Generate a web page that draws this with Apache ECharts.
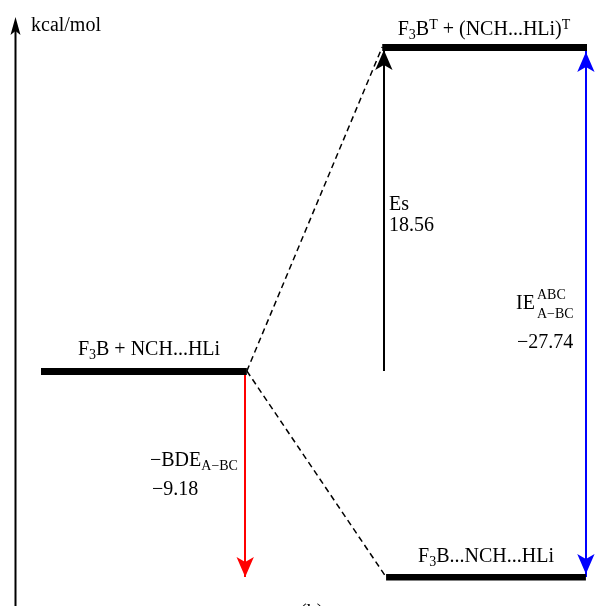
<!DOCTYPE html>
<html><head><meta charset="utf-8">
<script src="https://cdn.jsdelivr.net/npm/echarts@6/dist/echarts.min.js"></script>
<style>html,body{margin:0;padding:0;background:#fff}#c{width:599px;height:606px}</style>
</head><body><div id="c"></div>
<script>
// Energy levels (kcal/mol)
const levelEnergy = [0, 18.56, -9.18];
// drawn heights: the lowest level is drawn off-scale in the original figure
const levelPlotY = [0, 18.56, -11.8];
// reaction-coordinate spans of the three level bars
const levelStart = [0, 62.5, 63.2];
const levelEnd = [37.7, 100, 99.8];
const esValue = 18.56;
const bdeValue = -9.18;
const ieValue = -27.74;
const arrowX = [37.4, 62.8, 99.8]; // BDE, Es, IE

const FONT = '"Liberation Serif","Times New Roman",serif';
const chart = echarts.init(document.getElementById('c'), null, {renderer: 'canvas'});

const rich = {
  n: {fontSize: 20, fontFamily: FONT, lineHeight: 24, verticalAlign: 'middle', fill: '#000'},
  sub: {fontSize: 14, fontFamily: FONT, lineHeight: 14, verticalAlign: 'bottom', fill: '#000'},
  sup: {fontSize: 14, fontFamily: FONT, lineHeight: 14, verticalAlign: 'top', fill: '#000'}
};
function txt(text, x, y, align) {
  return {type: 'text', x: x, y: y, z: 10,
    style: {text: text, rich: rich, align: align || 'left', verticalAlign: 'middle',
      fontSize: 20, fontFamily: FONT, fill: '#000'}};
}
function shaft(color, p1, p2) {
  return {type: 'lines', coordinateSystem: 'cartesian2d', z: 2,
    lineStyle: {color: color, width: 2, opacity: 1}, symbol: 'none',
    data: [{coords: [p1, p2]}]};
}
function head(color, pts) {
  return {type: 'scatter', z: 4, symbol: 'arrow', symbolSize: [13, 20],
    itemStyle: {color: color, opacity: 1}, silent: true,
    data: pts};
}
const up = (x, y, g) => ({value: [x, y], symbolRotate: 0, symbolOffset: [0, g]});
const down = (x, y, g) => ({value: [x, y], symbolRotate: 180, symbolOffset: [0, -g]});

const option = {
  animation: false,
  backgroundColor: '#fff',
  grid: {left: 41, right: 12, top: 47, bottom: 29},
  xAxis: {type: 'value', min: 0, max: 100, show: false},
  yAxis: {type: 'value', min: levelPlotY[2], max: levelPlotY[1], show: false},
  series: [
    {
      type: 'lines', coordinateSystem: 'cartesian2d', z: 3,
      lineStyle: {color: '#000', width: 7, opacity: 1},
      symbol: 'none',
      data: levelPlotY.map((y, i) => ({coords: [[levelStart[i], y], [levelEnd[i], y]]}))
    },
    {
      type: 'lines', coordinateSystem: 'cartesian2d', z: 2,
      lineStyle: {color: '#000', width: 1.5, type: [6, 4], opacity: 1},
      symbol: 'none',
      data: [
        {coords: [[levelEnd[0], levelPlotY[0]], [levelStart[1], levelPlotY[1]]]},
        {coords: [[levelEnd[0], levelPlotY[0]], [levelStart[2], levelPlotY[2]]]}
      ]
    },
    shaft('#ff0000', [arrowX[0], levelPlotY[0]], [arrowX[0], levelPlotY[2]]),
    head('#ff0000', [down(arrowX[0], levelPlotY[2], 0)]),
    shaft('#000', [arrowX[1], levelPlotY[0]], [arrowX[1], levelPlotY[0] + esValue]),
    head('#000', [up(arrowX[1], levelPlotY[0] + esValue, 3)]),
    shaft('#0000ff', [arrowX[2], levelPlotY[1]], [arrowX[2], levelPlotY[2]]),
    head('#0000ff', [up(arrowX[2], levelPlotY[1], 5), down(arrowX[2], levelPlotY[2], 3)])
  ],
  graphic: [
    {type: 'line', shape: {x1: 15.5, y1: 606, x2: 15.5, y2: 28}, style: {stroke: '#000', lineWidth: 2}},
    {type: 'polygon', shape: {points: [[15.5, 17], [20.5, 35], [15.5, 31], [10.5, 35]]}, style: {fill: '#000'}},
    txt('{n|kcal/mol}', 31, 26),
    txt('{n|F}{sub|3}{n|B}{sup|T}{n| + (NCH...HLi)}{sup|T}', 484, 30, 'center'),
    txt('{n|F}{sub|3}{n|B + NCH...HLi}', 149, 350, 'center'),
    txt('{n|F}{sub|3}{n|B...NCH...HLi}', 486, 557, 'center'),
    txt('{n|Es}', 389, 205),
    txt('{n|' + esValue.toFixed(2) + '}', 389, 226),
    txt('{n|IE}', 516, 304),
    txt('{sup|ABC}', 537, 295),
    txt('{sub|A\u2212BC}', 537, 314),
    txt('{n|\u2212' + Math.abs(ieValue).toFixed(2) + '}', 517, 343),
    txt('{n|\u2212BDE}{sub|A\u2212BC}', 150, 461),
    txt('{n|\u2212' + Math.abs(bdeValue).toFixed(2) + '}', 152, 490),
    txt('{n|(b)}', 300, 613)
  ]
};
chart.setOption(option);
</script>
</body></html>
